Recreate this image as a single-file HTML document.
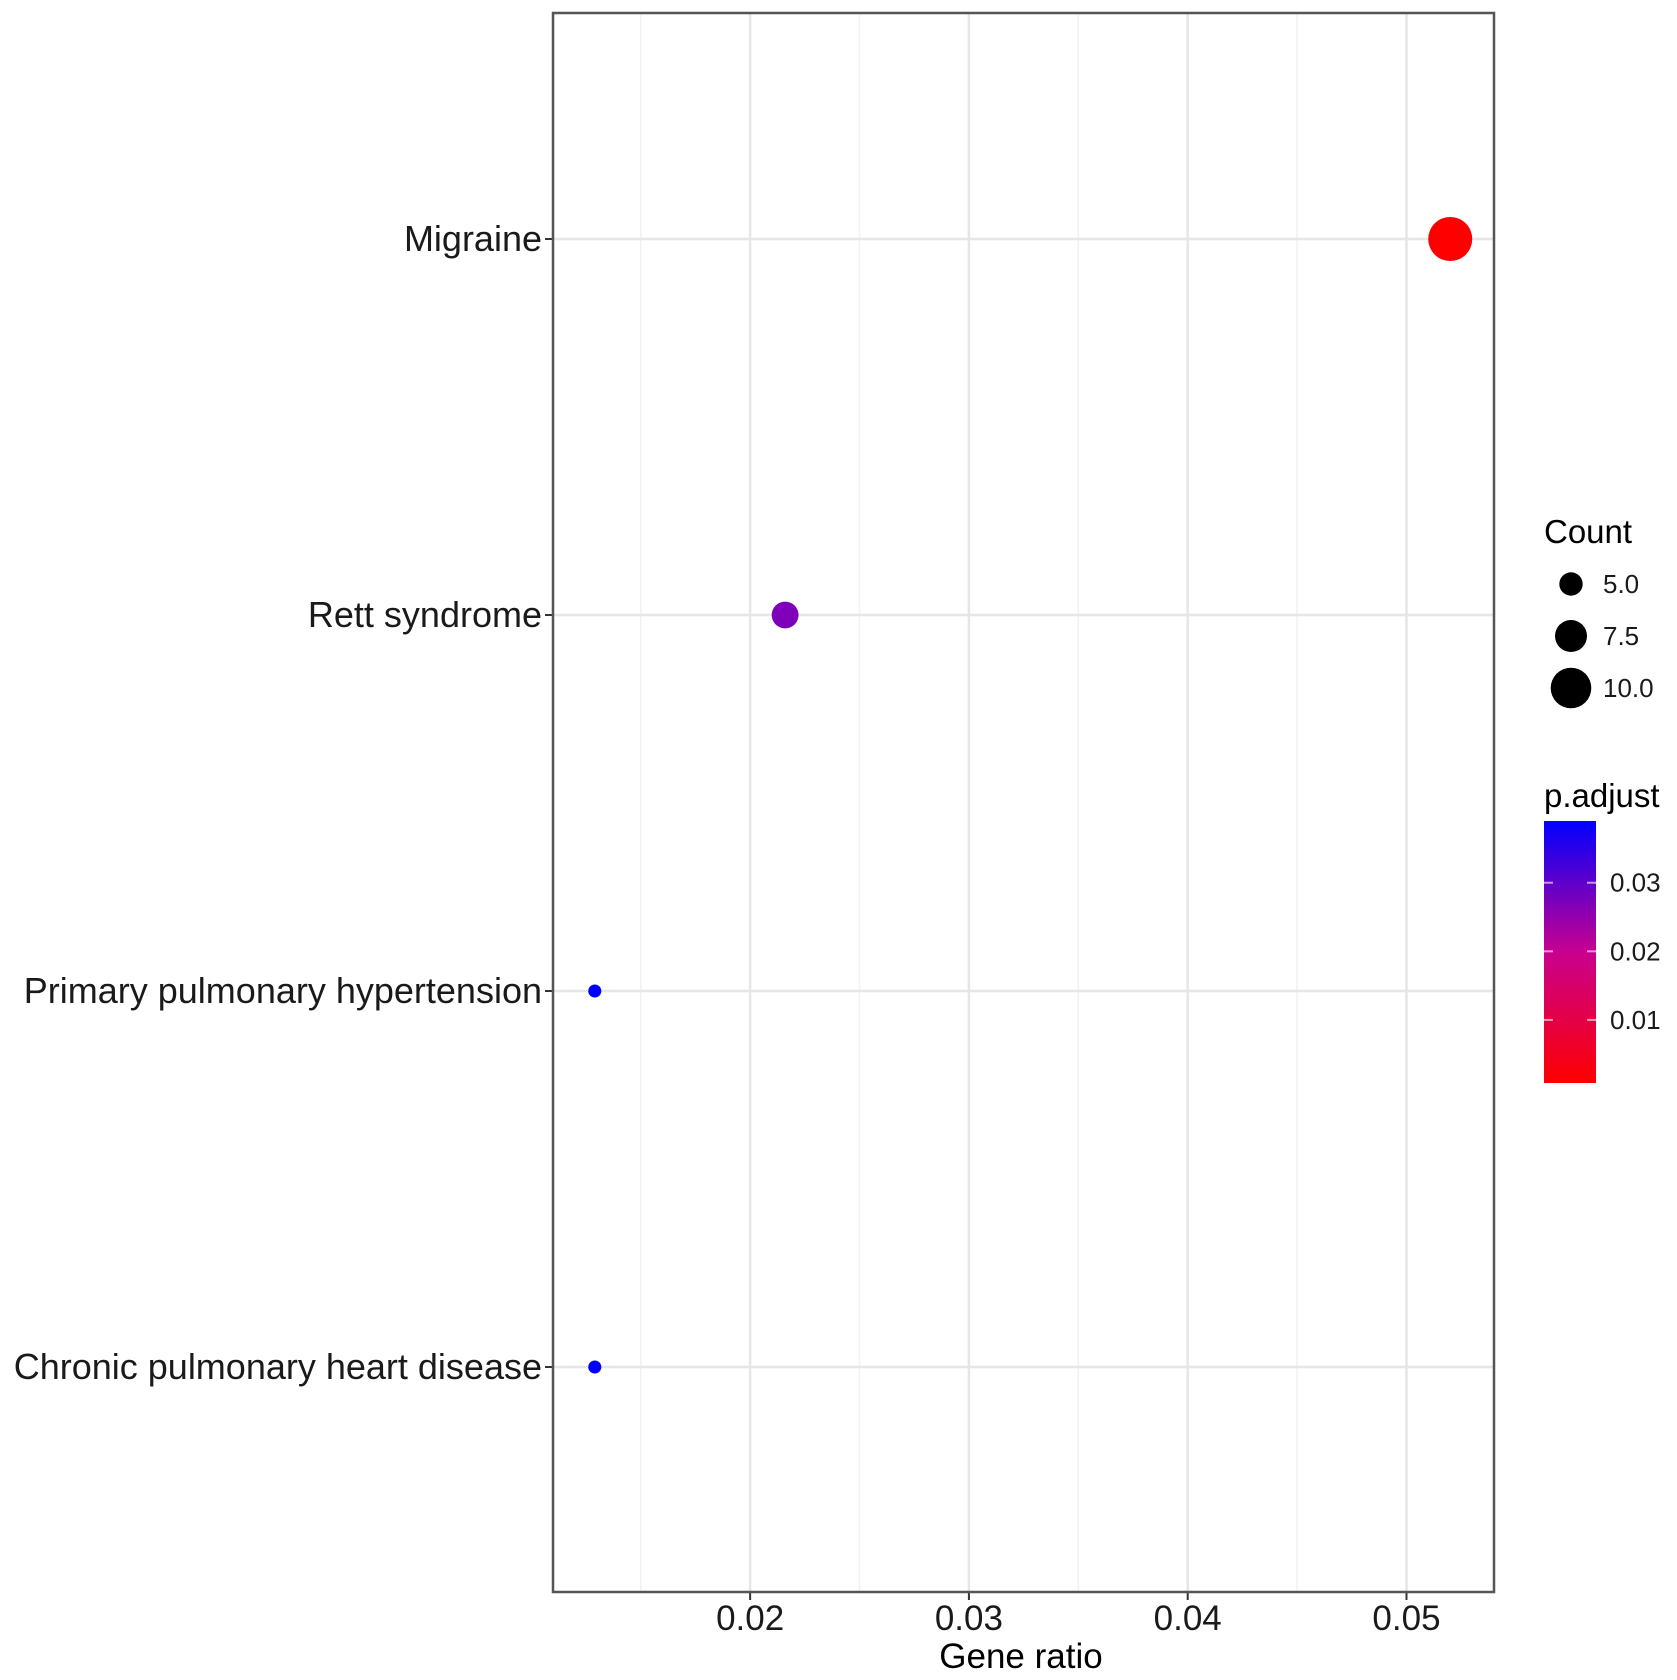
<!DOCTYPE html>
<html><head><meta charset="utf-8"><style>
html,body{margin:0;padding:0;background:#fff}
svg{display:block;font-family:"Liberation Sans",Arial,sans-serif}
</style></head><body>
<svg id="chart" width="1677" height="1680" viewBox="0 0 1677 1680">
<defs><linearGradient id="cb" x1="0" y1="1" x2="0" y2="0">
<stop offset="0" stop-color="#ff0000"/><stop offset="0.5" stop-color="#c8008f"/><stop offset="1" stop-color="#0000ff"/>
</linearGradient></defs>
<g id="grid"></g><g id="points"></g><g id="axes"></g><g id="legend"></g>
</svg>
<script>
const categories=["Migraine","Rett syndrome","Primary pulmonary hypertension","Chronic pulmonary heart disease"];
const geneRatio=[0.0520,0.0216,0.0129,0.0129];
const counts=[11,6,2,2];
const pAdjust=[0.0008,0.027,0.039,0.039];
const xTicks=[0.02,0.03,0.04,0.05];
const xMinor=[0.015,0.025,0.035,0.045];
const sizeLegend=[5.0,7.5,10.0];
const colorTicks=[0.01,0.02,0.03];
const NS="http://www.w3.org/2000/svg";
const L=553,R=1494,T=13,B=1592,XMIN=0.01099,XMAX=0.0540;
const sx=v=>L+(v-XMIN)/(XMAX-XMIN)*(R-L);
const sy=i=>239+i*376;
const rs=c=>3.1+1.72*c;
const PMIN=0.0008,PMAX=0.039;
function col(p){let t=Math.max(0,Math.min(1,(p-PMIN)/(PMAX-PMIN)));
const s=[[255,0,0],[200,0,143],[0,0,255]];let a,b,u;
if(t<0.5){a=s[0];b=s[1];u=t/0.5}else{a=s[1];b=s[2];u=(t-0.5)/0.5}
return `rgb(${a.map((v,k)=>Math.round(v+(b[k]-v)*u)).join(',')})`;}
function mk(parent,tag,attrs,text){const e=document.createElementNS(NS,tag);for(const k in attrs)e.setAttribute(k,attrs[k]);if(text!==undefined)e.textContent=text;document.getElementById(parent).appendChild(e);return e;}
mk('grid','rect',{x:L,y:T,width:R-L,height:B-T,fill:'#fff'});
xMinor.forEach(v=>{const e=mk('grid','line',{x1:sx(v),x2:sx(v),y1:T,y2:B,stroke:'#f2f2f2','stroke-width':1.5});

});
xTicks.forEach(v=>{const e=mk('grid','line',{x1:sx(v),x2:sx(v),y1:T,y2:B,stroke:'#e6e6e6','stroke-width':2.5});

});
categories.forEach((c,i)=>{const e=mk('grid','line',{x1:L,x2:R,y1:sy(i),y2:sy(i),stroke:'#e6e6e6','stroke-width':2.5});

});
categories.forEach((c,i)=>{const e=mk('points','circle',{cx:sx(geneRatio[i]),cy:sy(i),r:rs(counts[i]),fill:col(pAdjust[i])});


const t=mk('axes','text',{x:542,y:sy(i)+12,'text-anchor':'end','font-size':36,fill:'#1a1a1a'},c);


mk('axes','line',{x1:545,x2:L,y1:sy(i),y2:sy(i),stroke:'#333','stroke-width':2});});
xTicks.forEach(v=>{mk('axes','line',{x1:sx(v),x2:sx(v),y1:B,y2:B+8,stroke:'#333','stroke-width':2});
const t=mk('axes','text',{x:sx(v),y:1630,'text-anchor':'middle','font-size':35,fill:'#1a1a1a'},v.toFixed(2));

});
const fr=mk('axes','rect',{x:L,y:T,width:R-L,height:B-T,fill:'none',stroke:'#555','stroke-width':2.5});


const xt=mk('axes','text',{x:1021,y:1668,'text-anchor':'middle','font-size':35,fill:'#000'},'Gene ratio');


const lt=mk('legend','text',{x:1544,y:543,'font-size':33,fill:'#000'},'Count');


sizeLegend.forEach((c,i)=>{const y=584+i*52;
const d=mk('legend','circle',{cx:1571,cy:y,r:rs(c),fill:'#000'});


const t=mk('legend','text',{x:1603,y:y+9,'font-size':26,fill:'#1a1a1a'},c.toFixed(1));

});
const pt=mk('legend','text',{x:1544,y:807,'font-size':33,fill:'#000'},'p.adjust');


const CT=821,CB=1083;const cy=p=>CB-(p-PMIN)/(PMAX-PMIN)*(CB-CT);
const cb=mk('legend','rect',{x:1544,y:CT,width:52,height:CB-CT,fill:'url(#cb)'});


colorTicks.forEach(p=>{const y=cy(p);
mk('legend','line',{x1:1544,x2:1553,y1:y,y2:y,stroke:'#fff','stroke-opacity':0.6,'stroke-width':2});
mk('legend','line',{x1:1587,x2:1596,y1:y,y2:y,stroke:'#fff','stroke-opacity':0.6,'stroke-width':2});
const t=mk('legend','text',{x:1610,y:y+9,'font-size':26,fill:'#1a1a1a'},p.toFixed(2));

});
</script>
</body></html>
